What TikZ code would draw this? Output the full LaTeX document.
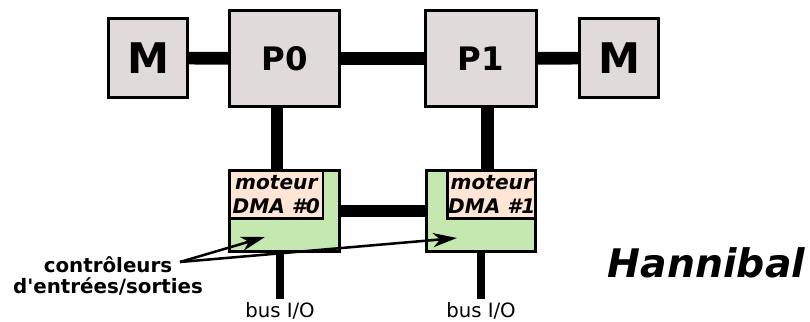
\documentclass[tikz,border=0pt]{standalone}
\usepackage{fontspec}
\setmainfont{DejaVu Sans}[Ligatures=TeXOff]
\usetikzlibrary{arrows.meta}
\definecolor{boitegris}{RGB}{225,218,218}
\definecolor{vertctl}{RGB}{197,232,176}
\definecolor{rosedma}{RGB}{255,229,213}
\tikzset{
  boite/.style={draw, line width=2pt, fill=boitegris, inner sep=0pt},
  memoire/.style={boite, minimum size=1.98cm, font=\fontsize{30}{30}\selectfont\bfseries},
  proc/.style={boite, minimum width=2.76cm, minimum height=2.4cm, font=\fontsize{23}{23}\selectfont\bfseries},
  ctl/.style={boite, fill=vertctl, minimum width=2.74cm, minimum height=2.03cm},
  moteur/.style={boite, fill=rosedma, minimum height=1.2cm, align=center,
    font=\fontsize{14.3}{17}\selectfont\bfseries\itshape},
  gros/.style={line width=9pt},
  fin/.style={line width=5pt},
  fleche/.style={line width=1.8pt, -{Stealth[length=17pt,width=10pt,inset=5pt]}}
}
\begin{document}
\begin{tikzpicture}[x=0.025cm,y=-0.025cm]
\useasboundingbox (0,0) rectangle (810,322);

\node[memoire] (m0) at (148,58) {M};
\node[proc] (p0) at (284.5,58.5) {P0};
\node[proc] (p1) at (481,58.5) {P1};
\node[memoire] (m1) at (619,58) {M};

\node[ctl] (dma0) at (284.5,211) {};
\node[ctl] (dma1) at (481,211) {};
\node[moteur, minimum width=2.33cm, anchor=north west] (mot0) at (dma0.north west) {moteur\\DMA \#0};
\node[moteur, minimum width=2.2cm, anchor=north east] (mot1) at (dma1.north east) {moteur\\DMA \#1};

\node[anchor=north, inner sep=2pt, font=\fontsize{14}{16}\selectfont] (io0) at (280,299) {bus I/O};
\node[anchor=north, inner sep=2pt, font=\fontsize{14}{16}\selectfont] (io1) at (481,299) {bus I/O};

\node[align=center, font=\fontsize{14.1}{15.6}\selectfont\bfseries] (lbl) at (108,276) {contrôleurs\\d'entrées/sorties};
\node[font=\fontsize{28}{28}\selectfont\bfseries\itshape] (hannibal) at (706.5,263) {Hannibal};

\draw[gros] (m0) -- (p0);
\draw[gros] (p0) -- (p1);
\draw[gros] (p1) -- (m1);
\draw[gros] ([xshift=-0.19cm]p0.south) -- ([xshift=-0.19cm]dma0.north);
\draw[gros] ([xshift=0.16cm]p1.south) -- ([xshift=0.16cm]dma1.north);
\draw[gros] (dma0) -- (dma1);
\draw[fin] (io0.north |- dma0.south) -- (io0.north);
\draw[fin] (io1.north |- dma1.south) -- (io1.north);

\coordinate (src) at (180,262);
\coordinate (pt0) at (265,237);
\coordinate (pt1) at (457,238);
\draw[fleche] (src) -- (pt0);
\draw[fleche] (src) -- (pt1);
\end{tikzpicture}
\end{document}
